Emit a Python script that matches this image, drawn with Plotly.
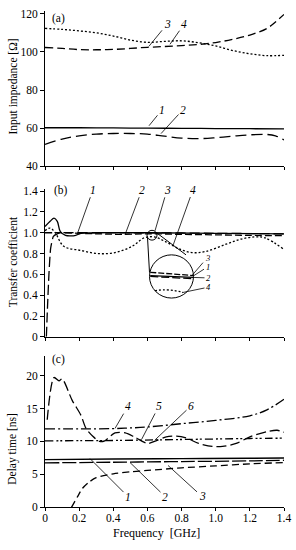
import plotly.graph_objects as go

# ---------------- data ----------------
# panel (a) input impedance [Ohm]
a1_x = [0, 0.2, 0.4, 0.6, 0.8, 1.0, 1.2, 1.4]
a1_y = [60.2, 60.2, 60.1, 60.0, 59.9, 59.8, 59.7, 59.6]
a2_x = [0, 0.1, 0.2, 0.3, 0.4, 0.5, 0.6, 0.7, 0.8, 0.9, 1.0, 1.1, 1.2, 1.3, 1.35, 1.4]
a2_y = [51.5, 54.3, 56.0, 56.9, 57.2, 57.2, 56.9, 55.8, 54.8, 54.5, 55.0, 55.8, 56.5, 56.7, 56.0, 53.8]
a3_x = [0, 0.1, 0.2, 0.3, 0.4, 0.5, 0.6, 0.7, 0.8, 0.9, 1.0, 1.1, 1.2, 1.3, 1.35, 1.4]
a3_y = [102.3, 101.8, 101.2, 101.1, 101.3, 101.8, 102.4, 102.8, 103.3, 103.9, 104.9, 106.6, 108.8, 112.3, 115.7, 119.6]
a4_x = [0, 0.1, 0.2, 0.3, 0.4, 0.5, 0.6, 0.7, 0.8, 0.9, 1.0, 1.1, 1.2, 1.3, 1.4]
a4_y = [112.3, 111.8, 111.0, 110.0, 108.3, 106.2, 105.0, 105.5, 105.8, 104.8, 103.1, 100.7, 99.0, 98.0, 98.2]

# panel (b) transfer coefficient
b1_x = [0, 0.03, 0.053, 0.072, 0.09, 0.12, 0.15, 0.18, 0.21, 0.3, 0.6, 1.0, 1.4]
b1_y = [1.06, 1.11, 1.14, 1.11, 1.01, 0.975, 0.97, 0.975, 0.995, 1.0, 1.0, 0.995, 0.99]
b2_x = [0, 0.1, 0.3, 0.46, 0.6, 0.8, 1.0, 1.2, 1.4]
b2_y = [1.0, 1.0, 0.99, 0.985, 0.99, 0.985, 0.98, 0.975, 0.972]
b3_x = [0.008, 0.015, 0.023, 0.033, 0.049, 0.072, 0.1, 0.3, 0.6, 1.0, 1.4]
b3_y = [0.0, 0.3, 0.6, 0.85, 0.965, 0.99, 1.0, 1.0, 1.0, 0.995, 0.99]
b4_x = [0, 0.03, 0.06, 0.11, 0.21, 0.31, 0.41, 0.51, 0.58, 0.64, 0.70, 0.78, 0.86, 0.94, 1.06, 1.15, 1.23, 1.29, 1.4]
b4_y = [1.02, 1.045, 1.0, 0.87, 0.83, 0.80, 0.81, 0.87, 0.95, 0.96, 0.92, 0.85, 0.81, 0.82, 0.89, 0.94, 0.96, 0.95, 0.84]

# magnified inset of panel (b)
ins_x = [0.593, 0.650]
ins1_y = [0.979, 0.975]
ins2_y = [0.977, 0.972]
ins3_y = [0.986, 0.979]
ins4_x = [0.599, 0.612, 0.625, 0.636]
ins4_y = [0.946, 0.948, 0.946, 0.943]

# panel (c) delay time [ns]
c1_x = [0, 0.4, 0.8, 1.2, 1.4]
c1_y = [7.25, 7.35, 7.4, 7.45, 7.5]
c2_x = [0, 0.4, 0.8, 1.2, 1.4]
c2_y = [6.75, 6.85, 6.95, 7.05, 7.15]
c3_x = [0.155, 0.19, 0.22, 0.256, 0.3, 0.4, 0.5, 0.6, 0.8, 1.0, 1.2, 1.4]
c3_y = [0.0, 1.6, 2.9, 3.8, 4.5, 5.1, 5.4, 5.6, 6.0, 6.3, 6.6, 6.8]
c4_x = [0, 0.2, 0.4, 0.5, 0.6, 0.8, 1.0, 1.2, 1.3, 1.4]
c4_y = [11.9, 11.9, 11.95, 12.05, 12.2, 12.7, 13.2, 13.9, 14.8, 16.4]
c5_x = [0, 0.4, 0.8, 1.2, 1.4]
c5_y = [10.1, 10.15, 10.3, 10.45, 10.5]
c6_x = [0.013, 0.053, 0.082, 0.10, 0.16, 0.21, 0.24, 0.28, 0.32, 0.35, 0.41, 0.47, 0.53, 0.6, 0.65, 0.71, 0.77, 0.83, 0.9, 0.98, 1.04, 1.12, 1.2, 1.3, 1.36, 1.4]
c6_y = [13.3, 19.7, 19.2, 19.5, 16.2, 14.0, 12.0, 10.8, 10.0, 10.1, 11.3, 11.3, 10.6, 9.7, 10.1, 10.7, 10.8, 10.5, 9.7, 9.25, 9.25, 9.7, 10.7, 11.5, 11.7, 11.4]

x_ticks = [0, 0.2, 0.4, 0.6, 0.8, 1.0, 1.2, 1.4]
x_ticktext = ["0", "0.2", "0.4", "0.6", "0.8", "1.0", "1.2", "1.4"]
a_ticks = [40, 60, 80, 100, 120]
b_ticks = [0, 0.2, 0.4, 0.6, 0.8, 1.0, 1.2, 1.4]
b_ticktext = ["0", "0.2", "0.4", "0.6", "0.8", "1.0", "1.2", "1.4"]
c_ticks = [0, 5, 10, 15, 20]

# ---------------- layout helpers ----------------
W, H = 296, 550
L, R = 45, 12
PW = W - L - R
FONT = "Liberation Serif"


def px(x):
    return (x - L) / PW


def py(y):
    return (H - y) / H


fig = go.Figure()


def line(x, y, xa, ya, dash="solid", width=1.3, shape="spline", color="black", smoothing=1.0):
    fig.add_trace(go.Scatter(
        x=x, y=y, xaxis=xa, yaxis=ya, mode="lines",
        line=dict(color=color, width=width, dash=dash, shape=shape,
                  smoothing=smoothing if shape == "spline" else None),
        showlegend=False, hoverinfo="skip"))


DOT = "2px,2px"
# panel (a)
line(a1_x, a1_y, "x", "y")
line(a2_x, a2_y, "x", "y", dash="11px,5px")
line(a3_x, a3_y, "x", "y", dash="8px,4px")
line(a4_x, a4_y, "x", "y", dash=DOT)
# panel (b)
line(b1_x, b1_y, "x2", "y2")
line(b2_x, b2_y, "x2", "y2", dash="7px,3px")
line(b3_x, b3_y, "x2", "y2", dash="10px,4px", smoothing=0.5)
line(b4_x, b4_y, "x2", "y2", dash=DOT)
# inset
line(ins_x, ins3_y, "x4", "y4", dash="6px,2px", shape="linear")
line(ins_x, ins1_y, "x4", "y4", shape="linear")
line(ins_x, ins2_y, "x4", "y4", dash="8px,3px", shape="linear")
line(ins4_x, ins4_y, "x4", "y4", dash=DOT)
# panel (c)
line(c1_x, c1_y, "x3", "y3", width=1.4)
line(c2_x, c2_y, "x3", "y3", dash="14px,3px")
line(c3_x, c3_y, "x3", "y3", dash="7px,4px", smoothing=0.7)
line(c4_x, c4_y, "x3", "y3", dash="10px,3px,2px,3px")
line(c5_x, c5_y, "x3", "y3", dash="8px,3px,2px,2px,2px,3px")
line(c6_x, c6_y, "x3", "y3", dash="10px,4px", smoothing=0.8)

axis_common = dict(showline=True, linecolor="black", linewidth=1, showgrid=False,
                   zeroline=False, ticks="outside", tickcolor="black", tickwidth=1,
                   tickfont=dict(family=FONT, size=11.5, color="black"))

xcommon = dict(axis_common, range=[0, 1.4], tickvals=x_ticks, ticklen=3, domain=[0, 1])

fig.update_layout(
    width=W, height=H,
    margin=dict(l=L, r=R, t=0, b=0),
    paper_bgcolor="white", plot_bgcolor="white",
    font=dict(family=FONT, color="black"),
    xaxis=dict(xcommon, anchor="y", showticklabels=False),
    yaxis=dict(axis_common, range=[40, 121.5], tickvals=a_ticks, ticklen=4,
               domain=[py(165.3), py(7)], anchor="x"),
    xaxis2=dict(xcommon, anchor="y2", showticklabels=False),
    yaxis2=dict(axis_common, range=[0, 1.42], tickvals=b_ticks, ticktext=b_ticktext, ticklen=4,
                domain=[py(339), py(188.5)], anchor="x2"),
    xaxis3=dict(xcommon, anchor="y3", ticktext=x_ticktext, ticklabeloverflow="allow",
                ticklabelstandoff=-3),
    yaxis3=dict(axis_common, range=[0, 23], tickvals=c_ticks, ticklen=4,
                domain=[py(512.7), py(358.3)], anchor="x3"),
    xaxis4=dict(visible=False, range=[0.592, 0.650], domain=[px(149.5), px(193.5)], anchor="y4"),
    yaxis4=dict(visible=False, range=[0.93, 1.024], domain=[py(299.5), py(255.5)], anchor="x4"),
)

annotations = []


def text(x, y, s, size=11, italic=False, angle=0):
    annotations.append(dict(
        x=px(x), y=py(y), xref="paper", yref="paper", text=("<i>%s</i>" % s) if italic else s,
        showarrow=False, textangle=angle, font=dict(family=FONT, size=size, color="black"),
        xanchor="center", yanchor="middle"))


def label(tx, ty, target_x, target_y, s, size=11.5):
    annotations.append(dict(
        x=px(target_x), y=py(target_y), xref="paper", yref="paper",
        ax=tx - target_x, ay=ty - target_y, axref="pixel", ayref="pixel",
        text="<i>%s</i>" % s, showarrow=True, arrowhead=0, arrowwidth=0.8,
        arrowcolor="black", standoff=0, startstandoff=0,
        font=dict(family=FONT, size=size, color="black")))


# axis titles
text(13, 84, "Input impedance [Ω]", size=11.5, angle=-90)
text(13, 263, "Transfer coefficient", size=11.5, angle=-90)
text(13, 453, "Delay time [ns]", size=11.5, angle=-90)
text(156, 539, "Frequency  [GHz]", size=12)
# panel letters
text(58, 15, "(a)", size=11.5)
text(61, 190, "(b)", size=11.5)
text(58, 362, "(c)", size=11.5)

# curve labels (a)
label(167, 21, 149, 43, "3")
label(184, 21, 170, 41, "4")
label(162, 108, 149, 124, "1")
label(183, 108, 161, 132, "2")
# curve labels (b)
label(93, 190, 77, 235, "1")
label(142, 190, 125, 235, "2")
label(167, 190, 155, 231, "3")
label(193, 190, 173, 246, "4")
# inset labels
label(207, 259, 192, 276.5, "3", size=8.5)
label(207.5, 268, 193.3, 277, "1", size=8.5)
label(208.5, 279, 193.3, 278.5, "2", size=8.5)
label(208.5, 288.5, 182, 294, "4", size=8.5)
# curve labels (c)
label(128, 410, 115, 432.3, "4")
label(159, 410, 141.7, 443.3, "5")
label(191, 410, 155, 444, "6")
label(128, 501, 90, 463, "1")
label(165, 501, 130, 467, "2")
label(202, 501, 168, 470, "3")

fig.update_layout(annotations=annotations)

# magnifier circles and connecting lines
shapes = [
    dict(type="circle", xref="paper", yref="paper", x0=px(149.5), x1=px(193.5),
         y0=py(299.5), y1=py(255.5), line=dict(color="black", width=1)),
    dict(type="circle", xref="paper", yref="paper", x0=px(147), x1=px(157),
         y0=py(240.5), y1=py(230.5), line=dict(color="black", width=1)),
    dict(type="line", xref="paper", yref="paper", x0=px(147.5), y0=py(237.5),
         x1=px(149.5), y1=py(273.5), line=dict(color="black", width=1)),
    dict(type="line", xref="paper", yref="paper", x0=px(156.5), y0=py(233),
         x1=px(186), y1=py(255.5), line=dict(color="black", width=1)),
]
fig.update_layout(shapes=shapes)

fig.write_html("out.html", config={"displayModeBar": False},
               post_script="document.body.style.margin='0';document.body.style.overflow='hidden';")
